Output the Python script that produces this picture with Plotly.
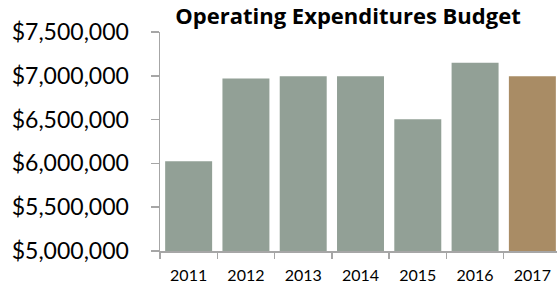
import plotly.graph_objects as go

years = ["2011", "2012", "2013", "2014", "2015", "2016", "2017"]
budget = [6025000, 6970000, 6995000, 6995000, 6505000, 7150000, 6995000]
colors = ["#92A096"] * 6 + ["#A98C65"]
ytick_vals = [5000000, 5500000, 6000000, 6500000, 7000000, 7500000]
ytick_text = ["$5,000,000", "$5,500,000", "$6,000,000", "$6,500,000", "$7,000,000", "$7,500,000"]

W, H = 557, 288

fig = go.Figure(go.Bar(x=years, y=budget, marker=dict(color=colors, line=dict(width=0)), width=0.82))

fig.update_layout(
    width=W, height=H,
    margin=dict(l=160, r=0, t=32, b=37),
    paper_bgcolor="white", plot_bgcolor="white",
    font=dict(family="Lato", color="black"),
    showlegend=False,
    title=dict(text="<b>Operating Expenditures Budget</b>", font=dict(size=22, family="Open Sans"),
               x=348 / W, xanchor="center", y=1 - 9 / H, yanchor="top",
               xref="container", yref="container"),
)
fig.update_xaxes(
    type="category", range=[-0.5, 6.43], tickson="boundaries",
    showline=True, linecolor="#A6A6A6", linewidth=1.5,
    ticks="outside", ticklen=6, tickcolor="#A6A6A6", tickwidth=1.5,
    tickfont=dict(size=16), showgrid=False, ticklabelstandoff=9,
)
fig.update_yaxes(
    range=[5000000, 7500000], tickvals=ytick_vals, ticktext=ytick_text,
    showline=True, linecolor="#A6A6A6", linewidth=1.5,
    ticks="outside", ticklen=8, tickcolor="#A6A6A6", tickwidth=1.5,
    tickfont=dict(size=23), showgrid=False, zeroline=False,
    ticklabelstandoff=17,
)
fig.write_html(
    "out.html",
    config={"displayModeBar": False, "staticPlot": True},
    post_script="document.body.style.margin='0';document.body.style.overflow='hidden';",
)
